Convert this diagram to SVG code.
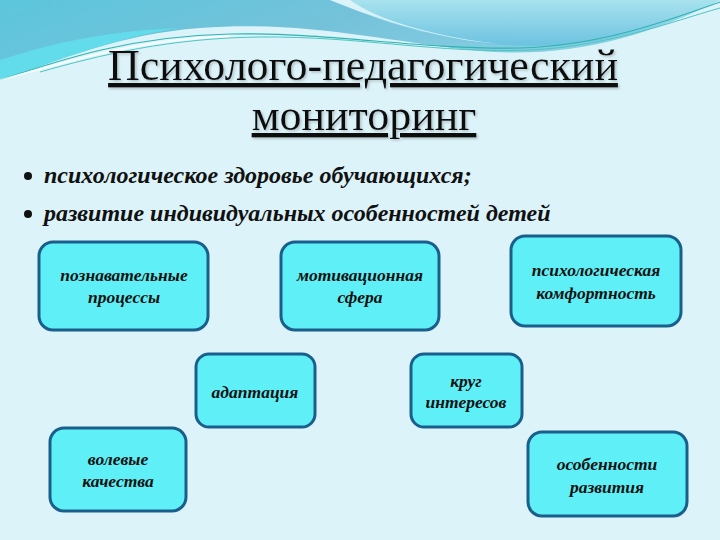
<svg xmlns="http://www.w3.org/2000/svg" width="720" height="540" viewBox="0 0 720 540">
<defs>
<linearGradient id="band" x1="0" y1="0" x2="1" y2="0.3">
<stop offset="0" stop-color="#5cc6dc"/>
<stop offset="0.5" stop-color="#74c2da"/>
<stop offset="1" stop-color="#8dd2e4"/>
</linearGradient>
<linearGradient id="bubble" x1="0" y1="0" x2="0" y2="1">
<stop offset="0" stop-color="#a8e2ee"/>
<stop offset="1" stop-color="#6cc2e0"/>
</linearGradient>
<filter id="tshadow" x="-5%" y="-20%" width="110%" height="140%">
<feDropShadow dx="1.5" dy="1.5" stdDeviation="0.8" flood-color="#7f8c90" flood-opacity="0.5"/>
</filter>
<style>
.box{fill:#5ef0f6;stroke:#1a5f8c;stroke-width:3}
.lbl{font-family:"Liberation Serif","DejaVu Serif",serif;font-style:italic;font-weight:bold;font-size:17.5px;fill:#111;text-anchor:middle}
.title{font-family:"Liberation Serif","DejaVu Serif",serif;font-size:44px;fill:#111;text-anchor:middle;text-decoration:underline;filter:url(#tshadow)}
.bul{font-family:"Liberation Serif","DejaVu Serif",serif;font-style:italic;font-weight:bold;font-size:24px;fill:#111}
</style>
</defs>
<rect width="720" height="540" fill="#dcf3f9"/>
<g id="decor">
<path d="M0 0 H720 V0 C640 40 560 60 470 50 C380 40 300 20 200 28 C120 34 60 60 0 80 Z" fill="url(#band)"/>
<path d="M0 60 C60 40 120 30 180 28 C120 36 60 60 0 80 Z" fill="#62dcea"/>
<path d="M330 0 C380 20 440 45 530 46 C610 46 670 25 720 0 Z" fill="url(#bubble)"/>
<path d="M330 0 C380 20 440 40 500 44 C420 35 370 15 350 0 Z" fill="#e8f8fb" opacity="0.8"/>
<path d="M0 80 C60 60 130 36 230 34 C330 32 420 50 520 48 C600 46 670 20 720 2" fill="none" stroke="#2fb3b3" stroke-width="1.2"/>
<path d="M40 72 C100 55 170 38 260 37 C360 36 440 54 530 50 C610 46 670 22 720 8" fill="none" stroke="#4cc6c2" stroke-width="1"/>
<path d="M0 80 C60 64 130 40 230 36" fill="none" stroke="#ffffff" stroke-width="2" opacity="0.7"/>
</g>
<g id="title">
<text class="title" x="363" y="80">Психолого-педагогический</text>
<text class="title" x="364" y="130">мониторинг</text>
</g>
<g id="bullets">
<circle cx="28" cy="176" r="4" fill="#111"/>
<text class="bul" x="44" y="183">психологическое здоровье обучающихся;</text>
<circle cx="28" cy="214" r="4" fill="#111"/>
<text class="bul" x="44" y="221">развитие индивидуальных особенностей детей</text>
</g>
<g id="n1"><rect class="box" x="39" y="242" width="169" height="88" rx="14"/>
<text class="lbl" x="124" y="281">познавательные</text><text class="lbl" x="124" y="303">процессы</text></g>
<g id="n2"><rect class="box" x="281" y="242" width="158" height="88" rx="14"/>
<text class="lbl" x="360" y="281">мотивационная</text><text class="lbl" x="360" y="303">сфера</text></g>
<g id="n3"><rect class="box" x="511" y="236" width="170" height="90" rx="14"/>
<text class="lbl" x="596" y="276">психологическая</text><text class="lbl" x="596" y="299">комфортность</text></g>
<g id="n4"><rect class="box" x="196" y="354" width="119" height="73" rx="13"/>
<text class="lbl" x="255" y="398">адаптация</text></g>
<g id="n5"><rect class="box" x="411" y="354" width="111" height="73" rx="13"/>
<text class="lbl" x="466" y="387">круг</text><text class="lbl" x="466" y="408">интересов</text></g>
<g id="n6"><rect class="box" x="50" y="428" width="136" height="83" rx="14"/>
<text class="lbl" x="118" y="465">волевые</text><text class="lbl" x="118" y="487">качества</text></g>
<g id="n7"><rect class="box" x="528" y="432" width="159" height="84" rx="14"/>
<text class="lbl" x="607" y="470">особенности</text><text class="lbl" x="607" y="493">развития</text></g>
<g id="connectors"></g>
</svg>
